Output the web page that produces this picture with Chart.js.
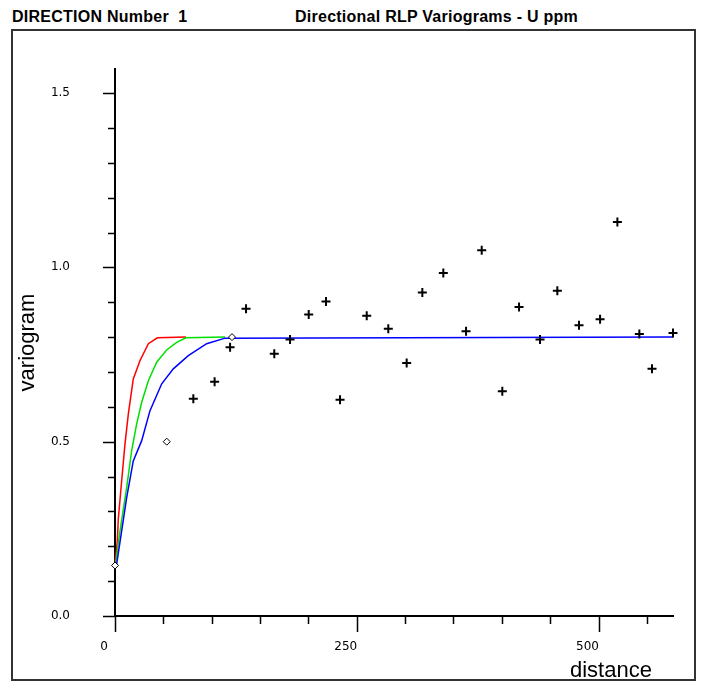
<!DOCTYPE html>
<html>
<head>
<meta charset="utf-8">
<script src="https://cdn.jsdelivr.net/npm/chart.js@4.4.1/dist/chart.umd.min.js"></script>
<style>
  html, body { margin: 0; padding: 0; background: #fff; }
  #wrap { position: relative; width: 702px; height: 682px; overflow: hidden; }
  #frame { position: absolute; left: 11px; top: 29px; width: 685px; height: 652px; border: 2px solid #333; box-sizing: border-box; }
  .title { position: absolute; top: 9px; font: bold 16px "Liberation Sans", Arial, sans-serif; line-height: 16px; letter-spacing: 0.25px; color: #000; white-space: pre; }
  #xlabel { position: absolute; left: 570px; top: 659px; font: 22px "Liberation Sans", Arial, sans-serif; line-height: 22px; color: #000; }
  canvas { position: absolute; left: 0; top: 0; }
</style>
</head>
<body>
<div id="wrap">
  <div id="frame"></div>
  <div class="title" style="left:12px">DIRECTION Number  1</div>
  <div class="title" style="left:295px">Directional RLP Variograms - U ppm</div>
  <canvas id="chart" width="702" height="682"></canvas>
  <div id="xlabel">distance</div>
</div>
<script>
// experimental variogram points (+)
const crossX = [81, 103, 119, 135.5, 164.7, 181, 200.3, 218.2, 232.7, 260.3, 282.6, 301.6, 317.8,
                339.5, 363, 379.2, 400.5, 417.8, 439.5, 457.4, 479.8, 501.6, 519.5, 542.2, 555.3, 577];
const crossY = [0.623, 0.672, 0.771, 0.881, 0.752, 0.793, 0.865, 0.902, 0.620, 0.861, 0.824, 0.726, 0.928,
                0.984, 0.817, 1.049, 0.645, 0.886, 0.793, 0.933, 0.834, 0.851, 1.130, 0.809, 0.709, 0.812];

// diamond points
const diamondX = [0, 53.5, 121];
const diamondY = [0.145, 0.50, 0.80];

// model curves
const redX = [0, 2.4, 3.4, 6.9, 10.3, 13.8, 18.9, 25.9, 34.5, 43.8, 73.4];
const redY = [0.149, 0.216, 0.278, 0.388, 0.493, 0.580, 0.680, 0.733, 0.781, 0.798, 0.80];
const greenX = [0, 1, 5.2, 12.1, 17.2, 22.4, 27.6, 34.5, 43.1, 53.4, 63.8, 73.4, 113.8];
const greenY = [0.149, 0.158, 0.244, 0.369, 0.474, 0.551, 0.613, 0.675, 0.728, 0.763, 0.785, 0.798, 0.80];
const blueX = [0, 1.7, 6.9, 12.1, 18.9, 27.6, 36.2, 48.3, 60.3, 75.8, 94.8, 113.8, 577];
const blueY = [0.145, 0.149, 0.244, 0.340, 0.445, 0.503, 0.589, 0.666, 0.709, 0.747, 0.781, 0.797, 0.80];

const xMin = 0, xMax = 577, xStep = 50, xLabelEvery = 250;
const yMin = 0, yMax = 1.569, yStep = 0.1;

const pts = (xs, ys) => xs.map((x, i) => ({ x: x, y: ys[i] }));

// long ticks where there is a label, short ones elsewhere
const axisTicks = {
    id: 'axisTicks',
    afterDraw(chart) {
        const { ctx, scales: { x, y } } = chart;
        ctx.save();
        ctx.strokeStyle = '#000';
        ctx.lineWidth = 1.5;
        ctx.beginPath();
        y.ticks.forEach(t => {
            const py = Math.round(y.getPixelForValue(t.value)) + 0.5;
            const len = t.label ? 12 : 7;
            ctx.moveTo(y.right - len, py);
            ctx.lineTo(y.right, py);
        });
        x.ticks.forEach(t => {
            const px = Math.round(x.getPixelForValue(t.value)) + 0.5;
            const len = t.label ? 16 : 8;
            ctx.moveTo(px, x.top);
            ctx.lineTo(px, x.top + len);
        });
        ctx.stroke();
        ctx.restore();
    }
};

const ctx = document.getElementById('chart').getContext('2d');

new Chart(ctx, {
    type: 'scatter',
    data: {
        datasets: [
            {
                label: 'points',
                data: pts(crossX, crossY),
                pointStyle: 'cross',
                pointRadius: 4.5,
                pointBorderWidth: 2,
                pointBorderColor: '#000',
                clip: false
            },
            {
                label: 'diamonds',
                data: pts(diamondX, diamondY),
                pointStyle: 'rectRot',
                pointRadius: 3.5,
                pointBorderWidth: 1,
                pointBorderColor: '#000',
                pointBackgroundColor: '#fff',
                clip: false
            },
            {
                label: 'blue',
                data: pts(blueX, blueY),
                showLine: true,
                pointRadius: 0,
                borderColor: '#0000ff',
                borderWidth: 1.5,
                clip: false
            },
            {
                label: 'green',
                data: pts(greenX, greenY),
                showLine: true,
                pointRadius: 0,
                borderColor: '#00e000',
                borderWidth: 1.5,
                clip: false
            },
            {
                label: 'red',
                data: pts(redX, redY),
                showLine: true,
                pointRadius: 0,
                borderColor: '#ff0000',
                borderWidth: 1.5,
                clip: false
            }
        ]
    },
    options: {
        responsive: false,
        animation: false,
        layout: { padding: { top: 69, right: 29, bottom: 0, left: 0 } },
        plugins: {
            legend: { display: false },
            tooltip: { enabled: false }
        },
        scales: {
            x: {
                type: 'linear',
                min: xMin,
                max: xMax,
                border: { display: true, color: '#000', width: 2 },
                grid: { display: false, drawTicks: false },
                ticks: {
                    stepSize: xStep,
                    includeBounds: false,
                    autoSkip: false,
                    maxRotation: 0,
                    labelOffset: -11,
                    padding: 24,
                    color: '#000',
                    font: { family: 'DejaVu Sans', size: 12 },
                    callback: v => (v % xLabelEvery === 0 ? String(v) : '')
                },
                afterFit: s => { s.height = 66; }
            },
            y: {
                type: 'linear',
                min: yMin,
                max: yMax,
                border: { display: true, color: '#000', width: 2 },
                grid: { display: false, drawTicks: false },
                ticks: {
                    stepSize: yStep,
                    includeBounds: false,
                    autoSkip: false,
                    padding: 45,
                    color: '#000',
                    font: { family: 'DejaVu Sans', size: 12 },
                    callback: v => (Math.round(v * 10) % 5 === 0 ? v.toFixed(1) : '')
                },
                title: {
                    display: true,
                    text: 'variogram',
                    color: '#000',
                    font: { family: 'Liberation Sans', size: 22 },
                    padding: { top: 15, bottom: 0 }
                },
                afterFit: s => { s.width = 115; }
            }
        }
    },
    plugins: [axisTicks]
});
</script>
</body>
</html>
